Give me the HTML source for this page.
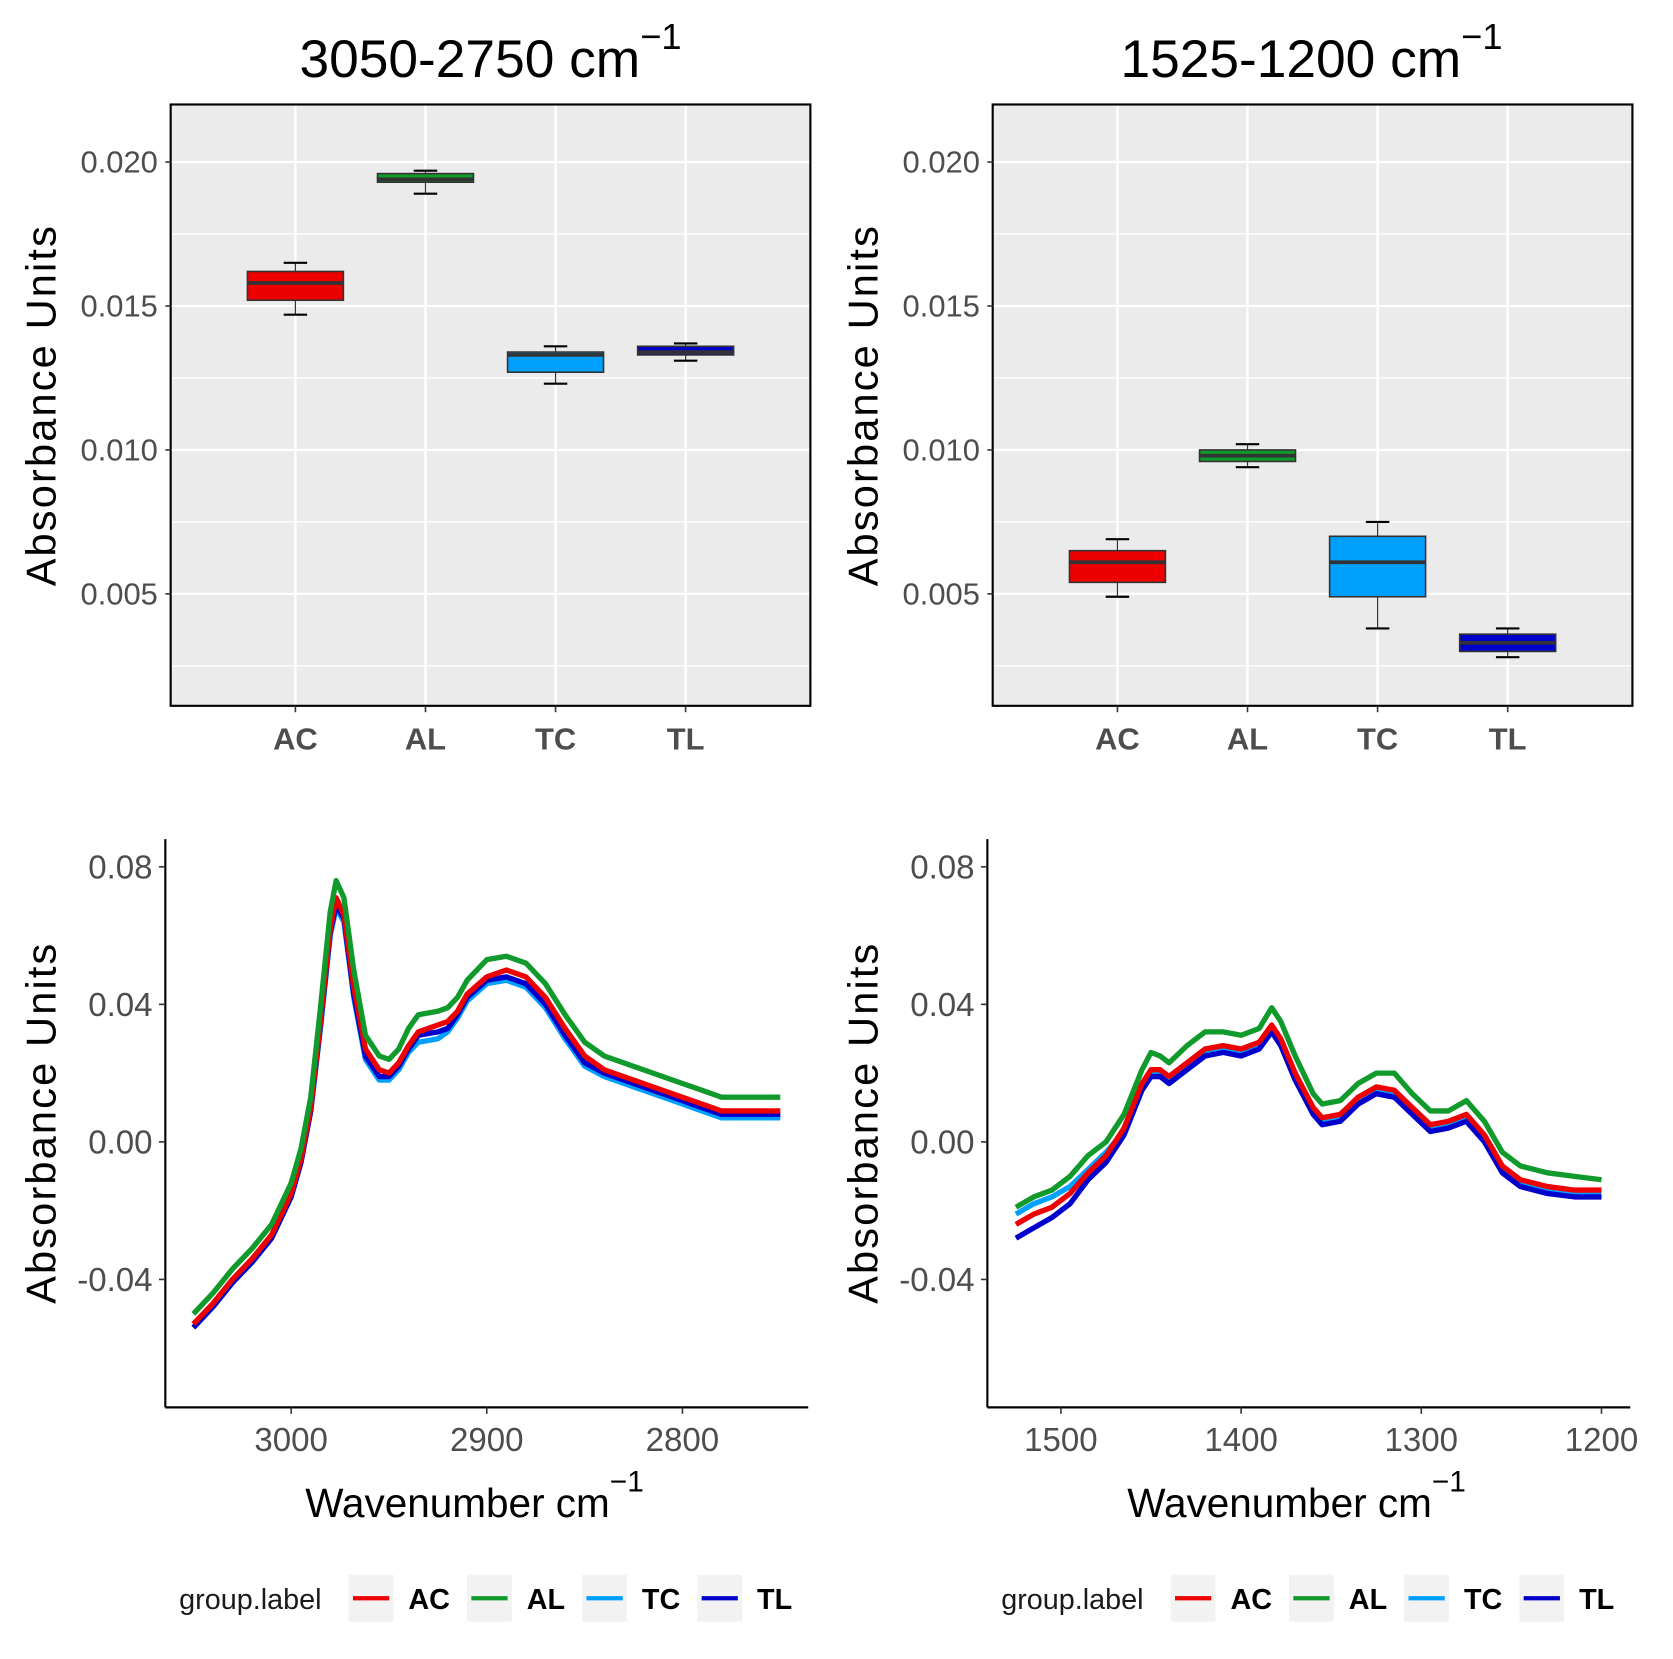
<!DOCTYPE html>
<html><head><meta charset="utf-8"><style>
html,body{margin:0;padding:0;background:#fff;}
svg{display:block;font-family:"Liberation Sans",Arial,sans-serif;}
</style></head><body>
<svg id="fig" width="1673" height="1659" viewBox="0 0 1569 1556" xmlns="http://www.w3.org/2000/svg">
<g id="root"></g>
</svg>
<script>
const categories = ["AC","AL","TC","TL"];
const colors = ["#EE0000","#119A2C","#00A0FF","#0000CC"];
// box stats: [whiskerLow, q1, median, q3, whiskerHigh]
const boxHigh = [
  [0.0147,0.0152,0.0158,0.0162,0.0165],
  [0.0189,0.0193,0.0194,0.0196,0.0197],
  [0.0123,0.0127,0.0133,0.0134,0.0136],
  [0.0131,0.0133,0.0134,0.0136,0.0137]
];
const boxLow = [
  [0.0049,0.0054,0.0061,0.0065,0.0069],
  [0.0094,0.0096,0.0098,0.0100,0.0102],
  [0.0038,0.0049,0.0061,0.0070,0.0075],
  [0.0028,0.0030,0.0033,0.0036,0.0038]
];
const boxTicks = [0.005,0.010,0.015,0.020];
const boxTickLabels = ["0.005","0.010","0.015","0.020"];

const wnHigh = [3050,3040,3030,3020,3010,3000,2995,2990,2985,2980,2977,2973,2968,2962,2955,2950,2945,2940,2935,2925,2920,2915,2910,2900,2890,2880,2870,2860,2850,2840,2820,2800,2790,2780,2760,2750];
const acHigh = [-0.053,-0.047,-0.040,-0.034,-0.027,-0.015,-0.005,0.010,0.035,0.062,0.071,0.066,0.045,0.027,0.021,0.020,0.023,0.028,0.032,0.034,0.035,0.038,0.043,0.048,0.050,0.048,0.042,0.033,0.025,0.021,0.017,0.013,0.011,0.009,0.009,0.009];
const alHigh = [-0.050,-0.044,-0.037,-0.031,-0.024,-0.012,-0.002,0.013,0.039,0.067,0.076,0.071,0.050,0.031,0.025,0.024,0.027,0.033,0.037,0.038,0.039,0.042,0.047,0.053,0.054,0.052,0.046,0.037,0.029,0.025,0.021,0.017,0.015,0.013,0.013,0.013];
const tcHigh = [-0.054,-0.048,-0.041,-0.035,-0.028,-0.016,-0.006,0.009,0.033,0.060,0.068,0.064,0.042,0.024,0.018,0.018,0.021,0.026,0.029,0.030,0.032,0.036,0.041,0.046,0.047,0.045,0.039,0.030,0.022,0.019,0.015,0.011,0.009,0.007,0.007,0.007];
const tlHigh = [-0.054,-0.048,-0.041,-0.035,-0.028,-0.016,-0.006,0.009,0.034,0.061,0.069,0.065,0.043,0.025,0.019,0.019,0.022,0.027,0.031,0.032,0.033,0.037,0.042,0.047,0.048,0.046,0.040,0.031,0.023,0.020,0.016,0.012,0.010,0.008,0.008,0.008];

const wnLow = [1525,1515,1505,1495,1485,1475,1465,1455,1450,1445,1440,1430,1420,1410,1400,1390,1383,1378,1370,1360,1355,1345,1335,1325,1315,1305,1295,1285,1275,1265,1255,1245,1230,1215,1200];
const acLow = [-0.024,-0.021,-0.019,-0.015,-0.009,-0.004,0.004,0.017,0.021,0.021,0.019,0.023,0.027,0.028,0.027,0.029,0.034,0.030,0.020,0.010,0.007,0.008,0.013,0.016,0.015,0.010,0.005,0.006,0.008,0.002,-0.007,-0.011,-0.013,-0.014,-0.014];
const alLow = [-0.019,-0.016,-0.014,-0.010,-0.004,0.000,0.008,0.021,0.026,0.025,0.023,0.028,0.032,0.032,0.031,0.033,0.039,0.035,0.025,0.014,0.011,0.012,0.017,0.020,0.020,0.014,0.009,0.009,0.012,0.006,-0.003,-0.007,-0.009,-0.010,-0.011];
const tcLow = [-0.021,-0.018,-0.016,-0.013,-0.008,-0.003,0.003,0.016,0.020,0.020,0.018,0.022,0.026,0.027,0.026,0.028,0.033,0.029,0.019,0.009,0.006,0.007,0.012,0.015,0.014,0.009,0.004,0.005,0.007,0.001,-0.008,-0.012,-0.014,-0.015,-0.015];
const tlLow = [-0.028,-0.025,-0.022,-0.018,-0.011,-0.006,0.002,0.015,0.019,0.019,0.017,0.021,0.025,0.026,0.025,0.027,0.032,0.028,0.018,0.008,0.005,0.006,0.011,0.014,0.013,0.008,0.003,0.004,0.006,0.000,-0.009,-0.013,-0.015,-0.016,-0.016];

const specTicks = [-0.04,0,0.04,0.08];
const specTickLabels = ["-0.04","0.00","0.04","0.08"];
const xTicksHigh = [3000,2900,2800];
const xTicksLow = [1500,1400,1300,1200];

const NS="http://www.w3.org/2000/svg";
const root=document.getElementById('root');
function mk(tag,attrs,parent,text){const e=document.createElementNS(NS,tag);for(const k in attrs)e.setAttribute(k,attrs[k]);if(text!==undefined)e.textContent=text;(parent||root).appendChild(e);return e;}

function title(cx,txt){
  const t=mk('text',{x:cx,y:72,'font-size':50,'text-anchor':'middle',fill:'#000'});
  
  
  mk('tspan',{},t,txt+' cm');
  mk('tspan',{dy:-26,'font-size':34},t,'\u22121');
}
function ytitle(x,cy){
  const t=mk('text',{x:0,y:0,'font-size':39,'letter-spacing':2,'text-anchor':'middle',fill:'#000',transform:`translate(${x},${cy}) rotate(-90)`},root,'Absorbance Units');
  
  
}

function boxPanel(x0,stats,name){
  const x1=x0+600, yT=98, yB=662;
  const ys=v=>152+(0.020-v)*27000;
  const xs=i=>x0+117+i*122;
  const g=mk('g',{});
  
  
  mk('rect',{x:x0,y:yT,width:600,height:yB-yT,fill:'#EBEBEB'},g);
  [0.0025,0.0075,0.0125,0.0175].forEach(v=>mk('line',{x1:x0,x2:x1,y1:ys(v),y2:ys(v),stroke:'#fff','stroke-width':1.2},g));
  boxTicks.forEach(v=>mk('line',{x1:x0,x2:x1,y1:ys(v),y2:ys(v),stroke:'#fff','stroke-width':2.2},g));
  categories.forEach((c,i)=>mk('line',{x1:xs(i),x2:xs(i),y1:yT,y2:yB,stroke:'#fff','stroke-width':2.2},g));
  stats.forEach((s,i)=>{
    const cx=xs(i);
    const bg=mk('g',{},g);
    
    
    mk('line',{x1:cx,x2:cx,y1:ys(s[0]),y2:ys(s[1]),stroke:'#333','stroke-width':1.2},bg);
    mk('line',{x1:cx,x2:cx,y1:ys(s[3]),y2:ys(s[4]),stroke:'#333','stroke-width':1.2},bg);
    mk('line',{x1:cx-11,x2:cx+11,y1:ys(s[0]),y2:ys(s[0]),stroke:'#000','stroke-width':2},bg);
    mk('line',{x1:cx-11,x2:cx+11,y1:ys(s[4]),y2:ys(s[4]),stroke:'#000','stroke-width':2},bg);
    mk('rect',{x:cx-45,y:ys(s[3]),width:90,height:ys(s[1])-ys(s[3]),fill:colors[i],stroke:'#333','stroke-width':1.5},bg);
    mk('line',{x1:cx-45,x2:cx+45,y1:ys(s[2]),y2:ys(s[2]),stroke:'#333','stroke-width':3.5},bg);
  });
  mk('rect',{x:x0,y:yT,width:600,height:yB-yT,fill:'none',stroke:'#000','stroke-width':2},g);
  boxTicks.forEach((v,i)=>{
    mk('line',{x1:x0-5,x2:x0,y1:ys(v),y2:ys(v),stroke:'#333','stroke-width':1.5},g);
    const t=mk('text',{x:x0-12,y:ys(v)+10,'font-size':29,'text-anchor':'end',fill:'#4D4D4D'},g,boxTickLabels[i]);
    
    
  });
  categories.forEach((c,i)=>{
    mk('line',{x1:xs(i),x2:xs(i),y1:yB,y2:yB+6,stroke:'#333','stroke-width':1.5},g);
    const t=mk('text',{x:xs(i),y:yB+41,'font-size':29,'font-weight':'bold','text-anchor':'middle',fill:'#4D4D4D'},g,c);
    
    
  });
}

function specPanel(x0,xAt,xticks,wn,series,name){
  const x1=x0+603, yT=787, yB=1320;
  const ys=v=>1071-v*3225;
  const g=mk('g',{});
  
  
  const order=[2,3,0,1];
  order.forEach(k=>{
    const d=wn.map((w,j)=>(j?'L':'M')+xAt(w).toFixed(1)+','+ys(series[k][j]).toFixed(1)).join(' ');
    const p=mk('path',{d:d,fill:'none',stroke:colors[k],'stroke-width':5,'stroke-linejoin':'round'},g);
    
    
  });
  mk('line',{x1:x0,x2:x0,y1:yT,y2:yB,stroke:'#000','stroke-width':2},g);
  mk('line',{x1:x0,x2:x1,y1:yB,y2:yB,stroke:'#000','stroke-width':2},g);
  specTicks.forEach((v,i)=>{
    mk('line',{x1:x0-6,x2:x0,y1:ys(v),y2:ys(v),stroke:'#333','stroke-width':1.5},g);
    const t=mk('text',{x:x0-12,y:ys(v)+11,'font-size':31,'text-anchor':'end',fill:'#4D4D4D'},g,specTickLabels[i]);
    
    
  });
  xticks.forEach(v=>{
    mk('line',{x1:xAt(v),x2:xAt(v),y1:yB,y2:yB+6,stroke:'#333','stroke-width':1.5},g);
    const t=mk('text',{x:xAt(v),y:yB+41,'font-size':31,'text-anchor':'middle',fill:'#4D4D4D'},g,String(v));
    
    
  });
  const xt=mk('text',{x:x0+290,y:1423,'font-size':38,'text-anchor':'middle',fill:'#000'},g);
  
  
  mk('tspan',{},xt,'Wavenumber cm');
  mk('tspan',{dy:-24,'font-size':28},xt,'\u22121');
}

function legend(x0,name){
  const g=mk('g',{});
  
  
  mk('text',{x:x0+168,y:1509,'font-size':27,fill:'#1a1a1a'},g,'group.label');
  const kx=[327,438,546,654];
  categories.forEach((c,i)=>{
    const e=mk('g',{},g);
    
    
    mk('rect',{x:x0+kx[i],y:1477,width:42,height:44,fill:'#F2F2F2'},e);
    mk('line',{x1:x0+kx[i]+4,x2:x0+kx[i]+38,y1:1499,y2:1499,stroke:colors[i],'stroke-width':4},e);
    mk('text',{x:x0+kx[i]+56,y:1509,'font-size':27,'font-weight':'bold',fill:'#000'},e,c);
  });
}

title(460,'3050-2750');
title(1230,'1525-1200');
ytitle(52,380); ytitle(823,380);
ytitle(52,1053); ytitle(823,1053);
boxPanel(160,boxHigh,'boxplot-high-range');
boxPanel(931,boxLow,'boxplot-low-range');
specPanel(155,w=>273+(3000-w)*1.835,xTicksHigh,wnHigh,[acHigh,alHigh,tcHigh,tlHigh],'spectra-high-range');
specPanel(926,w=>995+(1500-w)*1.69,xTicksLow,wnLow,[acLow,alLow,tcLow,tlLow],'spectra-low-range');
legend(0,'legend-left');
legend(771,'legend-right');
</script>
</body></html>
